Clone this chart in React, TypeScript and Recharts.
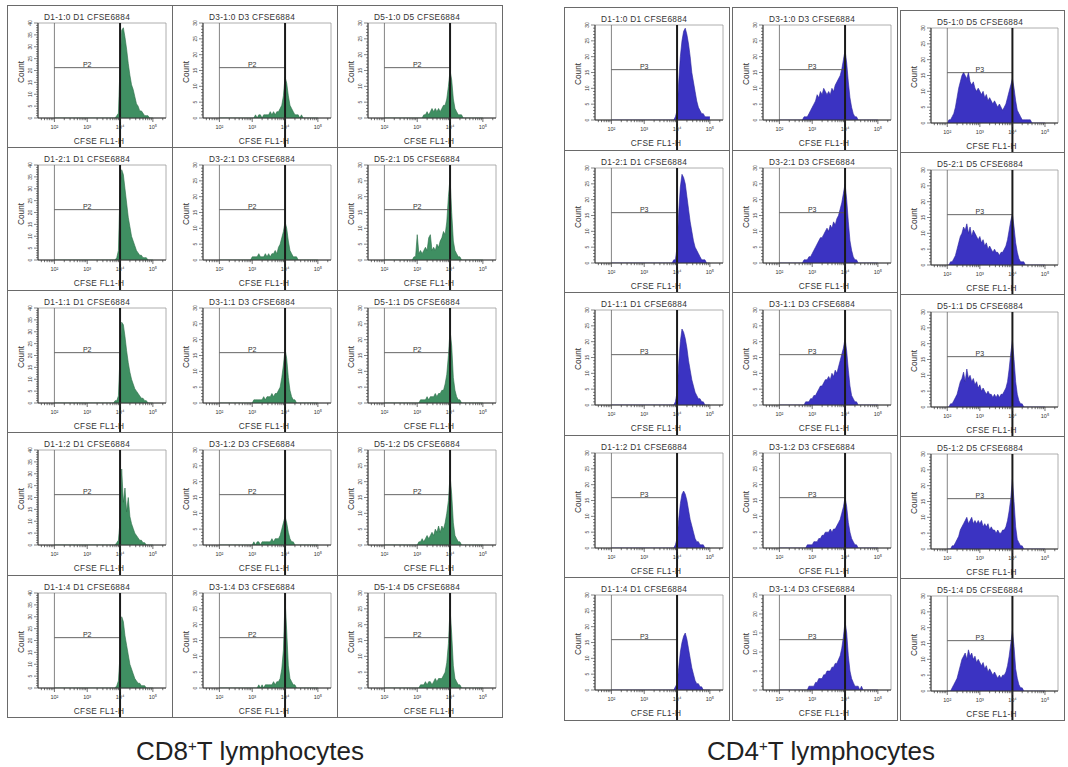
import React from 'react';
import { ComposedChart, Area, XAxis, YAxis, ReferenceLine, ReferenceArea } from 'recharts';

// bin centres, in log10(CFSE FL1-H)
const binCenters = [
  2.00, 2.05, 2.10, 2.15, 2.20, 2.25, 2.30, 2.35, 2.40, 2.45,
  2.50, 2.55, 2.60, 2.65, 2.70, 2.75, 2.80, 2.85, 2.90, 2.95,
  3.00, 3.05, 3.10, 3.15, 3.20, 3.25, 3.30, 3.35, 3.40, 3.45,
  3.50, 3.55, 3.60, 3.65, 3.70, 3.75, 3.80, 3.85, 3.90, 3.95,
  4.00, 4.05, 4.10, 4.15, 4.20, 4.25, 4.30, 4.35, 4.40, 4.45,
  4.50, 4.55, 4.60, 4.65, 4.70, 4.75, 4.80, 4.85, 4.90, 4.95,
  5.00,
];

const ratios = ['1:0', '2:1', '1:1', '1:2', '1:4'];
const days = ['D1', 'D3', 'D5'];
const xMajorTicks = [2, 3, 4, 5];
const gateLow = 2;
const gateHigh = 4;
const gateFrac = 0.53;

// ---------- CD8+ (green) ----------
const cd8_D1_10 = [
  0,0,0,0,0,0,0,0,0,0, 0,0,0,0,0,0,0,0,0,0, 0,0,0,0,0,0,0,0,0,0,
  0,0,0,0,0,0,0,0,1,2, 22,37,38,34,29,23,18,14,12,9, 6,5,3,3,2,1,1,1,0,0, 0];
const cd8_D3_10 = [
  0,0,0,0,0,0,0,0,0,0, 0,0,0,0,0,0,0,0,0,0, 0,0,1,0,1,1,0,1,1,1,
  1,2,1,2,1,2,2,3,4,7, 13,11,7,4,3,2,1,1,1,0, 1,0,0,0,0,0,0,0,0,0, 0];
const cd8_D5_10 = [
  0,0,0,0,0,0,0,0,0,0, 0,0,0,0,0,0,0,0,0,0, 0,0,0,0,1,1,2,1,2,3,
  2,3,2,3,2,3,4,4,6,10, 15,12,6,3,2,1,1,1,0,0, 0,0,0,0,0,0,0,0,0,0, 0];
const cd8_D1_21 = [
  0,0,0,0,0,0,0,0,0,0, 0,0,0,0,0,0,0,0,0,0, 0,0,0,0,0,0,0,0,0,0,
  0,0,0,0,0,0,0,0,1,4, 30,38,36,30,24,18,14,10,8,6, 4,3,2,2,1,1,1,0,0,0, 0];
const cd8_D3_21 = [
  0,0,0,0,0,0,0,0,0,0, 0,0,0,0,0,0,0,0,0,0, 1,1,1,1,2,1,1,1,2,1,
  2,1,2,2,3,2,4,5,7,9, 12,10,6,3,2,1,1,1,0,0, 0,0,0,0,0,0,0,0,0,0, 0];
const cd8_D5_21 = [
  0,0,0,0,0,0,0,0,0,0, 0,0,0,0,0,0,0,0,1,1, 8,2,3,2,3,4,3,7,8,3,
  4,3,5,4,6,7,9,8,12,20, 26,15,6,3,2,1,1,0,0,0, 0,0,0,0,0,0,0,0,0,0, 0];
const cd8_D1_11 = [
  0,0,0,0,0,0,0,0,0,0, 0,0,0,0,0,0,0,0,0,0, 0,0,0,0,0,0,0,0,0,0,
  0,0,0,0,0,0,0,1,1,3, 20,34,33,28,22,17,13,10,8,6, 5,4,3,2,2,1,1,0,0,0, 0];
const cd8_D3_11 = [
  0,0,0,0,0,0,0,0,0,0, 0,0,0,0,0,0,0,0,0,0, 0,1,1,1,1,1,1,2,1,2,
  2,2,3,2,3,3,4,5,8,12, 17,14,8,4,2,1,1,0,0,0, 0,0,0,0,0,0,0,0,0,0, 0];
const cd8_D5_11 = [
  0,0,0,0,0,0,0,0,0,0, 0,0,0,0,0,0,0,0,0,0, 0,0,1,1,1,1,2,1,2,2,
  2,3,2,3,3,4,4,6,9,15, 23,18,8,4,2,1,1,0,0,0, 0,0,0,0,0,0,0,0,0,0, 0];
const cd8_D1_12 = [
  0,0,0,0,0,0,0,0,0,0, 0,0,0,0,0,0,0,0,0,0, 0,0,0,0,0,0,0,0,0,0,
  0,0,0,0,0,0,0,0,1,2, 10,32,18,24,14,20,12,9,7,5, 4,3,2,2,1,1,0,0,0,0, 0];
const cd8_D3_12 = [
  0,0,0,0,0,0,0,0,0,0, 0,0,0,0,0,0,0,0,0,0, 0,1,0,1,1,0,1,1,1,1,
  1,1,2,1,2,2,2,3,5,7, 9,7,4,2,1,1,0,0,0,0, 0,0,0,0,0,0,0,0,0,0, 0];
const cd8_D5_12 = [
  0,0,0,0,0,0,0,0,0,0, 0,0,0,0,0,0,0,0,0,0, 0,1,1,2,1,2,3,2,3,4,
  3,5,4,6,4,6,5,7,10,14, 22,16,7,3,2,1,1,0,0,0, 0,0,0,0,0,0,0,0,0,0, 0];
const cd8_D1_14 = [
  0,0,0,0,0,0,0,0,0,0, 0,0,0,0,0,0,0,0,0,0, 0,0,0,0,0,0,0,0,0,0,
  0,0,0,0,0,0,0,0,1,3, 14,30,28,22,18,14,10,8,6,4, 3,2,2,1,1,1,0,0,0,0, 0];
const cd8_D3_14 = [
  0,0,0,0,0,0,0,0,0,0, 0,0,0,0,0,0,0,0,0,0, 0,0,0,0,1,0,1,0,1,1,
  1,1,1,2,1,2,2,3,6,12, 28,18,7,3,2,1,1,0,0,0, 0,0,0,0,0,0,0,0,0,0, 0];
const cd8_D5_14 = [
  0,0,0,0,0,0,0,0,0,0, 0,0,0,0,0,0,0,0,0,0, 0,0,1,1,1,2,1,2,2,1,
  2,3,2,3,3,3,4,5,8,14, 25,17,7,3,2,1,1,0,0,0, 0,0,0,0,0,0,0,0,0,0, 0];

// ---------- CD4+ (blue) ----------
const cd4_D1_10 = [
  0,0,0,0,0,0,0,0,0,0, 0,0,0,0,0,0,0,0,0,0, 0,0,0,0,0,0,0,0,0,0,
  0,0,0,0,0,0,0,0,0,1, 3,12,20,25,28,29,27,24,20,15, 12,9,6,4,3,2,2,1,1,1, 1];
const cd4_D3_10 = [
  0,0,0,0,0,0,0,0,0,0, 0,0,0,0,0,1,1,1,2,3, 4,5,6,8,7,9,8,10,9,8,
  9,8,10,9,11,12,13,14,16,19, 22,18,12,7,4,2,1,1,0,0, 0,0,0,0,0,0,0,0,0,0, 0];
const cd4_D5_10 = [
  0,1,1,2,3,5,8,11,13,15, 16,15,14,16,13,12,13,11,10,11, 10,9,10,8,9,7,8,7,6,7,
  6,5,6,5,4,5,6,8,10,12, 14,11,7,4,3,2,1,1,1,1, 1,1,0,0,0,0,0,0,0,0, 0];
const cd4_D1_21 = [
  0,0,0,0,0,0,0,0,0,0, 0,0,0,0,0,0,0,0,0,0, 0,0,0,0,0,0,0,0,0,0,
  0,0,0,0,0,0,0,0,1,1, 5,16,24,28,27,25,21,17,13,10, 7,5,4,3,2,1,1,1,0,0, 0];
const cd4_D3_21 = [
  0,0,0,0,0,0,0,0,0,0, 0,0,0,0,0,1,1,1,2,2, 3,4,5,6,7,8,8,9,10,11,
  10,12,11,13,12,14,15,17,19,22, 25,20,13,7,4,2,1,1,0,0, 0,0,0,0,0,0,0,0,0,0, 0];
const cd4_D5_21 = [
  0,0,1,1,2,3,5,7,9,10, 12,11,13,10,12,9,11,10,9,8, 9,7,8,6,7,5,6,5,4,5,
  4,4,3,4,4,5,6,8,11,14, 16,12,7,4,2,1,1,1,0,0, 0,0,0,0,0,0,0,0,0,0, 0];
const cd4_D1_11 = [
  0,0,0,0,0,0,0,0,0,0, 0,0,0,0,0,0,0,0,0,0, 0,0,0,0,0,0,0,0,0,0,
  0,0,0,0,0,0,0,0,0,1, 4,13,20,24,23,21,18,14,11,8, 6,4,3,2,2,1,1,0,0,0, 0];
const cd4_D3_11 = [
  0,0,0,0,0,0,0,0,0,0, 0,0,0,0,0,0,1,1,1,2, 2,3,3,4,5,6,6,7,8,8,
  9,8,10,9,11,10,12,14,16,18, 21,17,11,6,3,2,1,1,0,0, 0,0,0,0,0,0,0,0,0,0, 0];
const cd4_D5_11 = [
  0,0,1,1,2,3,4,6,8,9, 11,8,12,9,10,8,9,7,8,6, 7,5,6,5,4,5,4,4,3,4,
  3,4,3,4,4,5,6,8,12,17, 21,15,8,4,2,1,1,0,0,0, 0,0,0,0,0,0,0,0,0,0, 0];
const cd4_D1_12 = [
  0,0,0,0,0,0,0,0,0,0, 0,0,0,0,0,0,0,0,0,0, 0,0,0,0,0,0,0,0,0,0,
  0,0,0,0,0,0,0,0,0,1, 3,9,14,17,18,17,15,12,9,7, 5,3,2,2,1,1,1,0,0,0, 0];
const cd4_D3_12 = [
  0,0,0,0,0,0,0,0,0,0, 0,0,0,0,0,0,0,1,1,1, 1,2,2,2,3,3,4,4,5,5,
  5,6,5,6,6,7,8,9,11,13, 16,13,8,5,3,2,1,1,0,0, 0,0,0,0,0,0,0,0,0,0, 0];
const cd4_D5_12 = [
  0,0,0,1,1,2,3,4,6,7, 8,9,10,8,9,10,8,9,8,9, 8,9,7,8,7,8,6,7,6,6,
  5,6,5,5,6,6,7,9,12,16, 22,15,7,3,2,1,1,0,0,0, 0,0,0,0,0,0,0,0,0,0, 0];
const cd4_D1_14 = [
  0,0,0,0,0,0,0,0,0,0, 0,0,0,0,0,0,0,0,0,0, 0,0,0,0,0,0,0,0,0,0,
  0,0,0,0,0,0,0,0,0,1, 2,7,12,15,17,18,16,13,10,7, 5,3,2,2,1,1,0,0,0,0, 0];
const cd4_D3_14 = [
  0,0,0,0,0,0,0,0,0,0, 0,0,0,0,0,0,0,0,1,1, 1,1,2,2,3,3,3,4,4,5,
  5,5,6,6,7,7,8,9,11,14, 18,15,9,5,3,2,1,1,1,0, 1,0,0,0,0,0,0,0,0,0, 0];
const cd4_D5_14 = [
  0,0,0,1,2,3,4,6,8,10, 11,12,10,13,11,12,10,11,9,10, 9,8,9,7,8,6,7,6,5,6,
  5,4,5,4,5,5,6,8,11,15, 19,14,7,4,2,1,1,0,0,0, 0,0,0,0,0,0,0,0,0,0, 0];

const cd8Grid = [
  [cd8_D1_10, cd8_D3_10, cd8_D5_10],
  [cd8_D1_21, cd8_D3_21, cd8_D5_21],
  [cd8_D1_11, cd8_D3_11, cd8_D5_11],
  [cd8_D1_12, cd8_D3_12, cd8_D5_12],
  [cd8_D1_14, cd8_D3_14, cd8_D5_14],
];
const cd8YMax = [
  [40, 30, 30],
  [40, 30, 30],
  [40, 30, 30],
  [40, 30, 30],
  [40, 30, 30],
];
const cd4Grid = [
  [cd4_D1_10, cd4_D3_10, cd4_D5_10],
  [cd4_D1_21, cd4_D3_21, cd4_D5_21],
  [cd4_D1_11, cd4_D3_11, cd4_D5_11],
  [cd4_D1_12, cd4_D3_12, cd4_D5_12],
  [cd4_D1_14, cd4_D3_14, cd4_D5_14],
];
const cd4YMax = [
  [30, 30, 30],
  [30, 30, 30],
  [30, 30, 30],
  [30, 30, 30],
  [30, 25, 30],
];

const FONT = '"Liberation Sans", Arial, Helvetica, sans-serif';
const SUP: Record<number, string> = { 1: '¹', 2: '²', 3: '³', 4: '⁴', 5: '⁵' };
const X_DOMAIN: [number, number] = [1.5, 5.4];

const xTicks = (() => {
  const t: number[] = [];
  for (let n = 1; n <= 5; n++) {
    for (let k = 1; k <= 9; k++) {
      const v = n + Math.log10(k);
      if (v >= X_DOMAIN[0] && v <= X_DOMAIN[1]) t.push(v);
    }
  }
  return t;
})();

function XTick(props: any) {
  const { x, y, payload } = props;
  const v = payload.value as number;
  const major = Math.abs(v - Math.round(v)) < 1e-6 && xMajorTicks.includes(Math.round(v));
  return (
    <g>
      <line x1={x} y1={y} x2={x} y2={y + (major ? 4 : 2.2)} stroke="#333" strokeWidth={0.7} />
      {major && (
        <text x={x} y={y + 11} textAnchor="middle" fontSize={5.5} fill="#333" fontFamily={FONT}>
          {'10' + SUP[Math.round(v)]}
        </text>
      )}
    </g>
  );
}

function YTick(props: any) {
  const { x, y, payload } = props;
  const v = payload.value as number;
  const major = v % 5 === 0;
  return (
    <g>
      <line x1={x} y1={y} x2={x - (major ? 4 : 2)} y2={y} stroke="#333" strokeWidth={0.6} />
      {major && (
        <text
          x={x - 6}
          y={y}
          transform={`rotate(-90 ${x - 6} ${y})`}
          textAnchor="middle"
          fontSize={5}
          fill="#333"
          fontFamily={FONT}
        >
          {v}
        </text>
      )}
    </g>
  );
}

type PanelProps = {
  left: number;
  top: number;
  w: number;
  h: number;
  values: number[];
  yMax: number;
  fill: string;
  stroke: string;
  title: string;
  gateName: string;
};

function Panel({ left, top, w, h, values, yMax, fill, stroke, title, gateName }: PanelProps) {
  const data = binCenters.map((x, i) => ({ x, y: values[i] }));
  const plotTop = 18;
  const plotBottom = 113;
  const axisH = h - plotBottom;
  const yTicks: number[] = [];
  for (let i = 0; i <= yMax; i++) yTicks.push(i);
  const gateY = yMax * gateFrac;
  const plotCenter = (31 + (w - 6)) / 2;
  return (
    <div
      style={{
        position: 'absolute',
        left,
        top,
        width: w + 1,
        height: h + 1,
        boxSizing: 'border-box',
        border: '1px solid #6a6a6a',
      }}
    >
      <div
        style={{
          position: 'absolute',
          left: 36,
          top: 7,
          fontSize: 8.3,
          lineHeight: '9px',
          letterSpacing: 0.3,
          whiteSpace: 'nowrap',
          color: '#333',
          fontFamily: FONT,
        }}
      >
        {title}
      </div>
      <div
        style={{
          position: 'absolute',
          left: 13 - 20,
          top: 66 - 5,
          width: 40,
          height: 10,
          transform: 'rotate(-90deg)',
          textAlign: 'center',
          fontSize: 8.3,
          lineHeight: '10px',
          color: '#333',
          fontFamily: FONT,
        }}
      >
        Count
      </div>
      <div
        style={{
          position: 'absolute',
          left: plotCenter - 4 - 40,
          top: plotBottom + 17,
          width: 80,
          textAlign: 'center',
          fontSize: 8.3,
          lineHeight: '10px',
          letterSpacing: 0.3,
          color: '#333',
          fontFamily: FONT,
          whiteSpace: 'nowrap',
        }}
      >
        CFSE FL1-H
      </div>
      <div style={{ position: 'absolute', left: -1, top: -1 }}>
        <ComposedChart
          width={w}
          height={h}
          data={data}
          margin={{ top: plotTop, right: 6, bottom: 0, left: 0 }}
        >
          <ReferenceArea
            x1={X_DOMAIN[0]}
            x2={X_DOMAIN[1]}
            y1={0}
            y2={yMax}
            fill="none"
            fillOpacity={0}
            stroke="#9a9a9a"
            strokeWidth={0.8}
          />
          <XAxis
            dataKey="x"
            type="number"
            domain={X_DOMAIN}
            allowDataOverflow
            ticks={xTicks}
            interval={0}
            tickSize={0}
            tickMargin={0}
            tickLine={false}
            height={axisH}
            axisLine={{ stroke: '#333', strokeWidth: 1 }}
            tick={(p: any) => <XTick {...p} />}
          />
          <YAxis
            type="number"
            domain={[0, yMax]}
            allowDataOverflow
            ticks={yTicks}
            interval={0}
            tickSize={0}
            tickMargin={0}
            tickLine={false}
            width={31}
            axisLine={{ stroke: '#333', strokeWidth: 1 }}
            tick={(p: any) => <YTick {...p} />}
          />
          <Area
            dataKey="y"
            type="linear"
            stroke={stroke}
            strokeWidth={0.6}
            fill={fill}
            fillOpacity={1}
            isAnimationActive={false}
            dot={false}
            activeDot={false}
          />
          <ReferenceLine x={gateLow} stroke="#666" strokeWidth={0.8} />
          <ReferenceLine
            segment={[
              { x: gateLow, y: gateY },
              { x: gateHigh, y: gateY },
            ]}
            stroke="#555"
            strokeWidth={0.9}
            label={{ value: gateName, position: 'top', offset: 1, fontSize: 7, fill: '#333', fontFamily: FONT }}
          />
          <ReferenceLine
            x={gateHigh}
            stroke="#1a1a1a"
            strokeWidth={2}
            shape={(p: any) => (
              <line
                x1={p.x1}
                x2={p.x2}
                y1={Math.min(p.y1, p.y2)}
                y2={Math.max(p.y1, p.y2) + axisH}
                stroke="#1a1a1a"
                strokeWidth={2}
              />
            )}
          />
        </ComposedChart>
      </div>
    </div>
  );
}

const leftCols = [7, 172, 337];
const leftW = [165, 165, 165];
const leftTop = 5;
const leftRowH = 142.4;

const rightCols = [564, 732, 900];
const rightW = [165, 165, 164];
const rightTops = [7, 7, 10];
const rightBottom = 720;

export default function App() {
  const panels: React.ReactNode[] = [];
  for (let r = 0; r < 5; r++) {
    for (let c = 0; c < 3; c++) {
      const top = Math.round(leftTop + r * leftRowH);
      const bottom = Math.round(leftTop + (r + 1) * leftRowH);
      panels.push(
        <Panel
          key={`cd8-${r}-${c}`}
          left={leftCols[c]}
          top={top}
          w={leftW[c]}
          h={bottom - top}
          values={cd8Grid[r][c]}
          yMax={cd8YMax[r][c]}
          fill="#3f8f62"
          stroke="#2a6b47"
          title={`${days[c]}-${ratios[r]} ${days[c]} CFSE6884`}
          gateName="P2"
        />
      );
    }
  }
  for (let c = 0; c < 3; c++) {
    const rh = (rightBottom - rightTops[c]) / 5;
    for (let r = 0; r < 5; r++) {
      const top = Math.round(rightTops[c] + r * rh);
      const bottom = Math.round(rightTops[c] + (r + 1) * rh);
      panels.push(
        <Panel
          key={`cd4-${r}-${c}`}
          left={rightCols[c]}
          top={top}
          w={rightW[c]}
          h={bottom - top}
          values={cd4Grid[r][c]}
          yMax={cd4YMax[r][c]}
          fill="#3b33c2"
          stroke="#2a239c"
          title={`${days[c]}-${ratios[r]} ${days[c]} CFSE6884`}
          gateName="P3"
        />
      );
    }
  }
  const captionStyle: React.CSSProperties = {
    position: 'absolute',
    top: 736,
    width: 320,
    textAlign: 'center',
    fontSize: 26,
    lineHeight: '30px',
    color: '#222',
    fontFamily: FONT,
    whiteSpace: 'nowrap',
  };
  const supStyle: React.CSSProperties = { fontSize: 15, position: 'relative', top: -9 };
  return (
    <div
      style={{
        position: 'absolute',
        left: 0,
        top: 0,
        width: 1068,
        height: 767,
        overflow: 'hidden',
        background: '#ffffff',
      }}
    >
      {panels}
      <div style={{ ...captionStyle, left: 250 - 160 }}>
        CD8<span style={supStyle}>+</span>T lymphocytes
      </div>
      <div style={{ ...captionStyle, left: 821 - 160 }}>
        CD4<span style={supStyle}>+</span>T lymphocytes
      </div>
    </div>
  );
}
